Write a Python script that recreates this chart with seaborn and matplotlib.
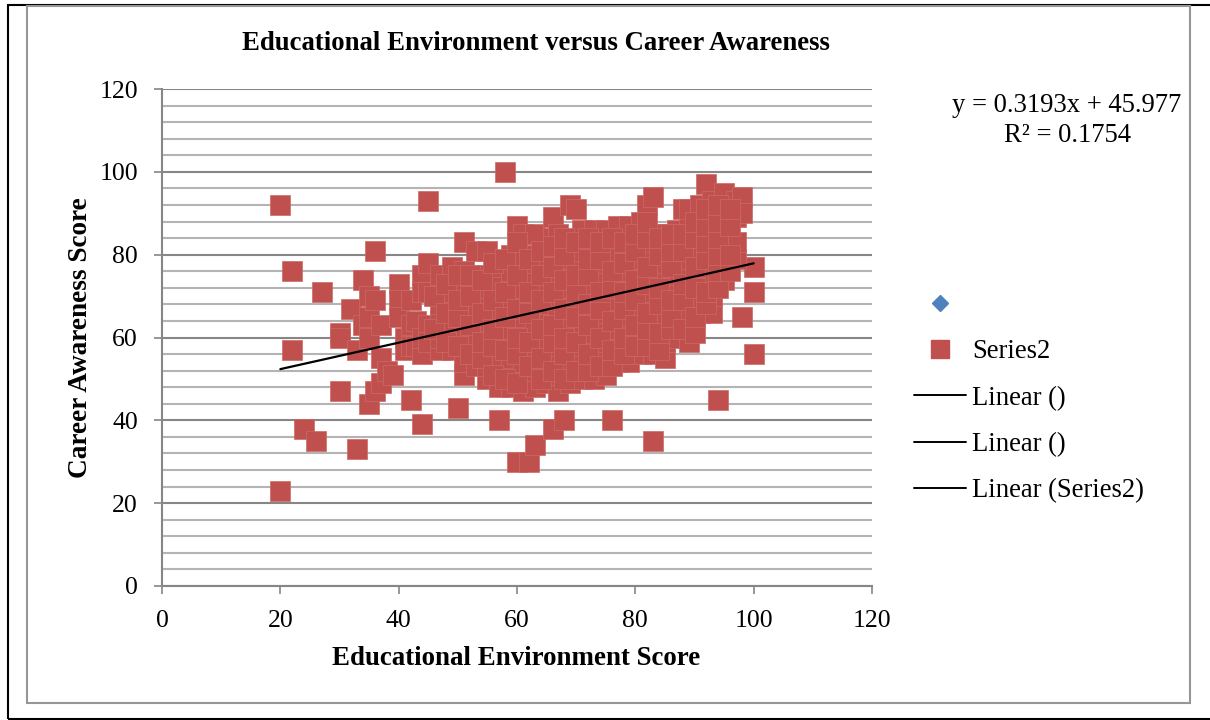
import pandas as pd
import seaborn as sns
import matplotlib.pyplot as plt
from matplotlib.lines import Line2D
from matplotlib.patches import Rectangle
from matplotlib.ticker import MultipleLocator

# Scattered points
outlier_x = [20, 20, 22, 22, 24, 26, 27, 30, 30, 30, 32, 33, 33, 34, 34, 35, 35, 35, 35, 36, 36, 36, 37, 37, 37,
             38, 39, 42, 44, 45, 50, 57, 58, 60, 62, 63, 66, 68, 76, 83, 94, 98, 100, 100, 100]
outlier_y = [92, 23, 76, 57, 38, 35, 71, 61, 60, 47, 67, 57, 33, 74, 63, 70, 65, 60, 44, 81, 69, 47, 63, 55, 49,
             52, 51, 45, 39, 93, 43, 40, 100, 30, 30, 34, 38, 40, 40, 35, 45, 65, 77, 71, 56]

# Dense cloud, one list of career scores per education score
cloud_x = [40, 41, 42, 43, 44, 45, 47, 49, 51, 53, 55, 57, 59, 60, 61, 63, 65, 66, 67, 69, 70, 71, 73, 75, 77, 79,
           81, 82, 83, 85, 87, 88, 89, 91, 92, 93, 95, 97, 98]
cloud_y = [
    [73, 69, 65],
    [60, 57],
    [69, 63, 58],
    [64, 58],
    [75, 71, 56, 60],
    [78, 71, 63, 59],
    [57, 60, 64, 68, 72, 75],
    [57, 60, 63, 67, 71, 74, 77],
    [51, 54, 58, 61, 65, 69, 72, 76, 83],
    [53, 57, 60, 64, 67, 71, 73, 81],
    [50, 53, 57, 60, 64, 68, 72, 75, 81],
    [48, 52, 55, 59, 63, 66, 70, 74, 77],
    [48, 51, 55, 58, 62, 66, 69, 73, 76, 80],
    [87],
    [47, 50, 54, 57, 61, 65, 68, 72, 76, 80, 85],
    [48, 52, 56, 59, 63, 67, 70, 74, 78, 85],
    [49, 53, 57, 60, 64, 68, 72, 76, 79],
    [89, 84],
    [47, 51, 55, 58, 62, 66, 70, 74, 78, 81, 85],
    [49, 53, 57, 61, 64, 68, 72, 76, 79, 83, 92],
    [91],
    [50, 54, 58, 62, 66, 69, 73, 77, 81, 86],
    [50, 54, 58, 61, 65, 69, 73, 77, 81, 86],
    [51, 55, 59, 63, 66, 70, 74, 78, 82, 86],
    [54, 58, 62, 65, 69, 73, 77, 81, 85, 87],
    [54, 57, 61, 65, 69, 72, 76, 80, 84, 87],
    [56, 60, 64, 67, 71, 75, 79, 83, 88],
    [92],
    [56, 60, 63, 67, 71, 75, 79, 83, 85, 94],
    [55, 59, 63, 66, 70, 74, 78, 82, 85],
    [60, 64, 67, 71, 75, 79, 83, 86],
    [91],
    [59, 63, 67, 71, 75, 79, 83, 87, 91],
    [66, 69, 73, 77, 81, 85, 89, 92],
    [97],
    [66, 70, 74, 78, 82, 86, 90, 93],
    [74, 78, 82, 85, 89, 95],
    [79, 83, 89, 93],
    [94, 90],
]

# Second layer inside the cloud, where the squares overlap unevenly
inner_x = [46, 48, 50, 52, 54, 56, 58, 60, 62, 64, 66, 68, 70, 72, 74, 76, 78, 80, 82, 84, 86, 88, 90, 92, 94, 96]
inner_y = [
    [62, 70],
    [59, 66, 73],
    [58, 65, 69, 75],
    [56, 63, 70, 75],
    [55, 59, 66, 74],
    [51, 58, 62, 69, 78],
    [50, 57, 65, 71, 79],
    [49, 56, 60, 67, 75, 83],
    [53, 59, 66, 71, 79],
    [50, 55, 62, 69, 75, 81],
    [52, 59, 63, 71, 77, 82],
    [50, 56, 60, 67, 74, 80, 84],
    [52, 59, 65, 71, 75, 83],
    [52, 56, 63, 68, 75, 79, 84],
    [53, 60, 67, 71, 79, 83],
    [53, 57, 64, 72, 76, 84],
    [56, 60, 67, 71, 78, 83],
    [58, 63, 69, 74, 81, 85],
    [58, 62, 66, 73, 77, 84, 88],
    [57, 61, 68, 72, 80, 84],
    [62, 65, 69, 77, 81, 85],
    [62, 69, 73, 81, 85],
    [61, 65, 72, 77, 84, 88],
    [68, 71, 79, 83, 87, 91],
    [72, 76, 80, 84, 88, 92],
    [76, 80, 87, 91],
]

trend_x = [20, 100]
slope = 0.3193
intercept = 45.977
trend_y = [slope * v + intercept for v in trend_x]

legend_labels = [" ", "Series2", "Linear ()", "Linear ()", "Linear (Series2)"]
x_ticks = [0, 20, 40, 60, 80, 100, 120]

red = "#C0504D"
grey = "#868686"

points = pd.DataFrame({"edu": outlier_x, "career": outlier_y})
cloud = pd.DataFrame({"edu": cloud_x, "career": cloud_y}).explode("career")
inner = pd.DataFrame({"edu": inner_x, "career": inner_y}).explode("career")
points = pd.concat([points, cloud, inner], ignore_index=True)
points["career"] = points["career"].astype(float)

sns.set_theme(style="white")
plt.rcParams["font.family"] = ["Liberation Serif", "DejaVu Sans"]

fig = plt.figure(figsize=(12.1, 7.2), dpi=100)
ax = fig.add_axes([162 / 1210, 1 - 586 / 720, 710 / 1210, 497 / 720])

# Outer frames of the pasted picture
fig.add_artist(Rectangle((8 / 1210, 1 / 720), 1.1, 714 / 720, transform=fig.transFigure,
                         fill=False, edgecolor="black", linewidth=1.5))
fig.add_artist(Rectangle((26.5 / 1210, 17 / 720), 1163.5 / 1210, 697 / 720, transform=fig.transFigure,
                         fill=False, edgecolor="#969696", linewidth=1.5))

sns.scatterplot(data=points, x="edu", y="career", marker="s", s=205, color=red,
                edgecolor="#CC6A67", linewidth=0.5, ax=ax, zorder=3, clip_on=False)
sns.lineplot(x=trend_x, y=trend_y, color="black", linewidth=1.6, ax=ax, zorder=4)

ax.set_xlim(0, 120)
ax.set_ylim(0, 120)
ax.set_xticks(x_ticks)
ax.yaxis.set_major_locator(MultipleLocator(20))
ax.yaxis.set_minor_locator(MultipleLocator(4))
ax.grid(True, axis="y", which="major", color=grey, linewidth=1.5)
ax.grid(True, axis="y", which="minor", color="#B4B4B4", linewidth=1.5)
ax.grid(False, axis="x")
ax.set_axisbelow(True)
ax.tick_params(axis="both", which="major", length=5.8, width=1.2, color=grey, labelsize=18.5,
               labelcolor="black", pad=11.5, left=True, bottom=True)
ax.tick_params(axis="y", which="minor", length=0)
for side in ["top", "right"]:
    ax.spines[side].set_visible(False)
for side in ["left", "bottom"]:
    ax.spines[side].set_color(grey)
    ax.spines[side].set_linewidth(1.5)

ax.set_xlabel("Educational Environment Score", fontsize=19.4, fontweight="bold", color="black")
ax.set_ylabel("Career Awareness Score", fontsize=19.6, fontweight="bold", color="black")
ax.xaxis.set_label_coords(0.499, -0.12)
ax.yaxis.set_label_coords(-0.097, 0.5)

fig.text(536 / 1210, 1 - 44 / 720, "Educational Environment versus Career Awareness",
         fontsize=19.3, fontweight="bold", color="black", ha="center", va="center")
fig.text(1067 / 1210, 1 - 105 / 720, f"y = {slope}x + {intercept}", fontsize=19.2, color="black",
         ha="center", va="center")
fig.text(1067 / 1210, 1 - 135 / 720, "R² = 0.1754", fontsize=19.2, color="black", ha="center", va="center")

handles = [
    Line2D([], [], linestyle="none", marker="D", markersize=8.5, color="#4F81BD"),
    Line2D([], [], linestyle="none", marker="s", markersize=12.5, color=red),
    Line2D([], [], color="black", linewidth=1.4),
    Line2D([], [], color="black", linewidth=1.4),
    Line2D([], [], color="black", linewidth=1.4),
]
fig.legend(handles, legend_labels, loc="upper left", bbox_to_anchor=(914 / 1210, 1 - 293 / 720), frameon=False,
           fontsize=19.2, labelcolor="black", handlelength=1.95, handletextpad=0.22, labelspacing=0.8,
           borderpad=0, borderaxespad=0)

fig.savefig("out.png", dpi=100)
